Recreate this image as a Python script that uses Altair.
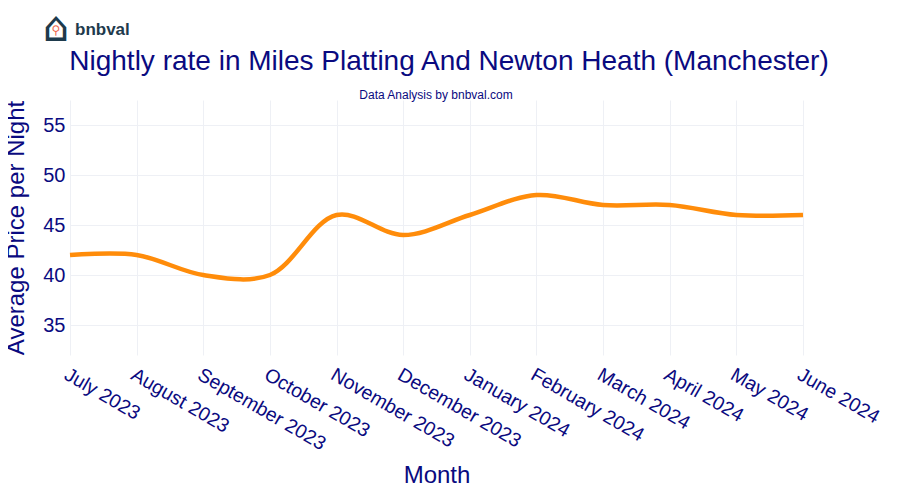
import altair as alt
import pandas as pd

months = ["July 2023", "August 2023", "September 2023", "October 2023",
          "November 2023", "December 2023", "January 2024", "February 2024",
          "March 2024", "April 2024", "May 2024", "June 2024"]
prices = [42, 42, 40, 40, 46, 44, 46, 48, 47, 47, 46, 46]

df = pd.DataFrame({"Month": months, "Price": prices})

NAVY = "#0a0a80"
FONT = "Liberation Sans"

line = alt.Chart(df).mark_line(
    interpolate="catmull-rom", color="#ff8c0a", strokeWidth=4.5
).encode(
    x=alt.X("Month:N", sort=months,
            scale=alt.Scale(type="point", padding=0),
            axis=alt.Axis(title="Month", labelAngle=30, labelAlign="left",
                          labelBaseline="top", labelFontSize=19.5, labelColor=NAVY,
                          labelFont=FONT, labelPadding=10, ticks=False, domain=False,
                          grid=True, gridColor="#eef0f5", titleFontSize=24,
                          titleColor=NAVY, titleFont=FONT, titleFontWeight="normal",
                          titleY=127, titleBaseline="alphabetic", labelOverlap=False)),
    y=alt.Y("Price:Q", scale=alt.Scale(domain=[32, 57.5], nice=False, zero=False),
            axis=alt.Axis(title="Average Price per Night", values=[35, 40, 45, 50, 55],
                          labelFontSize=20, labelColor=NAVY, labelFont=FONT,
                          labelPadding=5, ticks=False, domain=False, grid=True,
                          gridColor="#eef0f5", titleFontSize=24, titleColor=NAVY,
                          titleFont=FONT, titleFontWeight="normal",
                          titleX=-66, titleBaseline="top")),
)

title = alt.Chart(pd.DataFrame({"t": ["Nightly rate in Miles Platting And Newton Heath (Manchester)"]})).mark_text(
    fontSize=28, color=NAVY, font=FONT, align="center", baseline="middle"
).encode(text="t:N", x=alt.value(379), y=alt.value(-38))

subtitle = alt.Chart(pd.DataFrame({"t": ["Data Analysis by bnbval.com"]})).mark_text(
    fontSize=12, color=NAVY, font=FONT, align="center", baseline="middle"
).encode(text="t:N", x=alt.value(366), y=alt.value(-5))

logo = alt.Chart(pd.DataFrame({"t": ["bnbval"]})).mark_text(
    fontSize=17, color="#1e3a4c", font=FONT, fontWeight="bold",
    align="left", baseline="middle"
).encode(text="t:N", x=alt.value(5), y=alt.value(-70))

icon = alt.Chart(pd.DataFrame({"t": ["⌂"]})).mark_text(
    fontSize=42, color="#1e3a4c", font="DejaVu Sans",
    align="center", baseline="middle"
).encode(text="t:N", x=alt.value(-14), y=alt.value(-72))

icon_dot = alt.Chart(pd.DataFrame({"t": ["⚲"]})).mark_text(
    fontSize=12, color="#f06a50", font="DejaVu Sans",
    align="center", baseline="middle"
).encode(text="t:N", x=alt.value(-14), y=alt.value(-70))

chart = alt.layer(line, title, subtitle, logo, icon, icon_dot).properties(
    width=733, height=255,
    autosize=alt.AutoSizeParams(type="none"),
    padding={"left": 62, "top": 92, "right": 89, "bottom": 129},
    background="white",
).configure_view(stroke=None)

chart.save("out.html", embed_options={"renderer": "svg", "actions": False})
